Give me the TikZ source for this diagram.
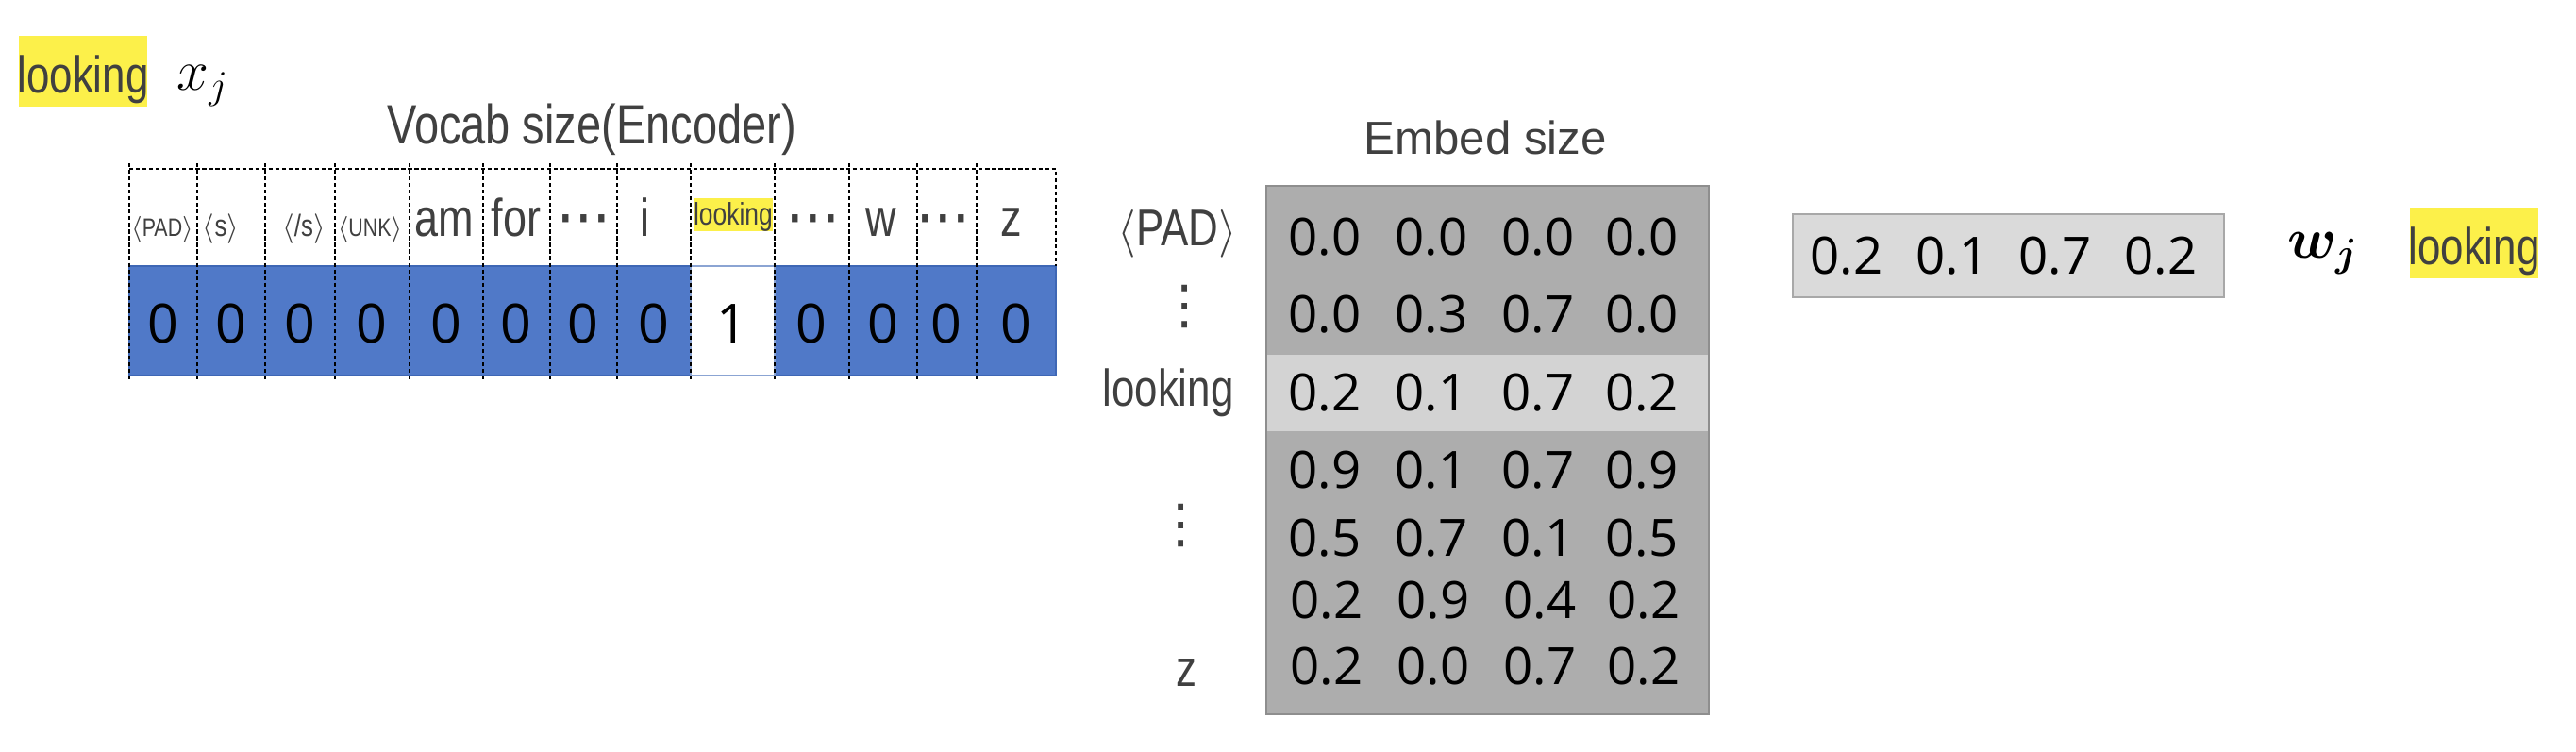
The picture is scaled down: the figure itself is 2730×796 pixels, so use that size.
\documentclass[tikz,border=0pt]{standalone}
\usepackage{amsmath,bm}
\usepackage{fontspec}
\setmainfont{Liberation Sans}
\newfontfamily\lblfont[FakeStretch=0.8]{Liberation Sans}
\newfontfamily\numfont{Open Sans}
\newfontfamily\symfont{DejaVu Sans}
\newcommand{\lblsize}[1]{\lblfont\fontsize{#1}{#1}\selectfont}
\newcommand{\hdotsx}{\textbf{\textperiodcentered\kern.07em\textperiodcentered\kern.07em\textperiodcentered}}
\definecolor{hly}{HTML}{FCF04A}
\definecolor{txtgray}{HTML}{404040}
\definecolor{vblue}{HTML}{5079C8}
\definecolor{vbluedark}{HTML}{3E67B5}
\definecolor{embgray}{HTML}{ADADAD}
\definecolor{embhl}{HTML}{D3D3D3}
\definecolor{embborder}{HTML}{8E8E8E}
\definecolor{boxgray}{HTML}{DADADA}
\definecolor{boxborder}{HTML}{A8A8A8}

\begin{document}
\begin{tikzpicture}[x=.01cm,y=-.01cm,
    lbl/.style={text=txtgray,inner sep=0,anchor=base},
    num/.style={inner sep=0,anchor=base,font=\numfont\fontsize{15.5}{16}\selectfont},
    bit/.style={inner sep=0,anchor=base,font=\numfont\fontsize{16.3}{18}\selectfont},
    hl/.style={fill=hly,inner sep=0},
    vdash/.style={dash pattern=on 1.2pt off .8pt,line width=.35pt}]
    \useasboundingbox (0,0) rectangle (2730,796);
    \node[hl,minimum width=1.36cm,minimum height=.75cm](hlx)at(88,75.5){};
    \node[lbl,font=\lblsize{15.6}](wordx)at(88,98){looking};
    \node[inner sep=0,anchor=base,font=\fontsize{18}{18}\selectfont](xj)at(215,95){$x_j$};
    \node[lbl,font=\lblsize{16.7}](vtitle)at(627,152){Vocab size(Encoder)};
    \filldraw[fill=vblue,draw=vbluedark,line width=.6pt](137,282)rectangle(1119,398);
    \filldraw[fill=white,draw=vbluedark!60,line width=.4pt](732,282)rectangle(821,398);
    \draw[vdash](137,179)--(1119,179)--(1119,282);
    \draw[vdash](137,173)--(137,405) (209,173)--(209,405) (281,173)--(281,405) (355,173)--(355,405)
        (434,173)--(434,405) (512,173)--(512,405) (583,173)--(583,405) (654,173)--(654,405)
        (732,173)--(732,405) (821,173)--(821,405) (900,173)--(900,405) (972,173)--(972,405)
        (1035,173)--(1035,405);
    \node[lbl,font=\lblsize{7.6}](v1)at(172,250){$\langle$PAD$\rangle$};
    \node[lbl,font=\lblsize{9.2}](v2)at(234,250){$\langle$s$\rangle$};
    \node[lbl,font=\lblsize{9.2}](v3)at(322,250){$\langle$/s$\rangle$};
    \node[lbl,font=\lblsize{7.6}](v4)at(392,250){$\langle$UNK$\rangle$};
    \node[lbl,font=\lblsize{16}](v5)at(471,250){am};
    \node[lbl,font=\lblsize{16}](v6)at(547,250){for};
    \node[lbl,font=\lblsize{16}](v7)at(620,250){\hdotsx};
    \node[lbl,font=\lblsize{16}](v8)at(683,250){i};
    \node[hl,minimum width=.84cm,minimum height=.35cm](hlv)at(777,227.5){};
    \node[lbl,font=\lblsize{9.4}](v9)at(777,238){looking};
    \node[lbl,font=\lblsize{16}](v10)at(863,250){\hdotsx};
    \node[lbl,font=\lblsize{16}](v11)at(934,250){w};
    \node[lbl,font=\lblsize{16}](v12)at(1001,250){\hdotsx};
    \node[lbl,font=\lblsize{16}](v13)at(1072,250){z};
    \node[bit](b1)at(173,363){0};
    \node[bit](b2)at(245,363){0};
    \node[bit](b3)at(318,363){0};
    \node[bit](b4)at(394,363){0};
    \node[bit](b5)at(473,363){0};
    \node[bit](b6)at(547,363){0};
    \node[bit](b7)at(618,363){0};
    \node[bit](b8)at(693,363){0};
    \node[bit](b9)at(776,363){1};
    \node[bit](b10)at(860,363){0};
    \node[bit](b11)at(936,363){0};
    \node[bit](b12)at(1003,363){0};
    \node[bit](b13)at(1077,363){0};
    \node[lbl,font=\fontsize{14}{16}\selectfont](etitle)at(1574,163){Embed size};
    \filldraw[fill=embgray,draw=embborder,line width=.8pt](1342,197)rectangle(1811,757);
    \fill[embhl](1343,376)rectangle(1810,457);
    \node[lbl,font=\lblsize{15.6}](r1)at(1248,260){$\langle$PAD$\rangle$};
    \node[text=txtgray,inner sep=0,font=\symfont\fontsize{16}{16}\selectfont](r2)at(1256,325){⋮};
    \node[lbl,font=\lblsize{15.6}](r3)at(1238,430){looking};
    \node[text=txtgray,inner sep=0,font=\symfont\fontsize{16}{16}\selectfont](r4)at(1252,557){⋮};
    \node[lbl,font=\lblsize{15.6}](r5)at(1257,727){z};
    \node[num](e11)at(1404,270){0.0};
    \node[num](e12)at(1517,270){0.0};
    \node[num](e13)at(1630,270){0.0};
    \node[num](e14)at(1740,270){0.0};
    \node[num](e21)at(1404,352){0.0};
    \node[num](e22)at(1517,352){0.3};
    \node[num](e23)at(1630,352){0.7};
    \node[num](e24)at(1740,352){0.0};
    \node[num](e31)at(1404,435){0.2};
    \node[num](e32)at(1517,435){0.1};
    \node[num](e33)at(1630,435){0.7};
    \node[num](e34)at(1740,435){0.2};
    \node[num](e41)at(1404,517){0.9};
    \node[num](e42)at(1517,517){0.1};
    \node[num](e43)at(1630,517){0.7};
    \node[num](e44)at(1740,517){0.9};
    \node[num](e51)at(1404,589){0.5};
    \node[num](e52)at(1517,589){0.7};
    \node[num](e53)at(1630,589){0.1};
    \node[num](e54)at(1740,589){0.5};
    \node[num](e61)at(1406,655){0.2};
    \node[num](e62)at(1519,655){0.9};
    \node[num](e63)at(1632,655){0.4};
    \node[num](e64)at(1742,655){0.2};
    \node[num](e71)at(1406,725){0.2};
    \node[num](e72)at(1519,725){0.0};
    \node[num](e73)at(1632,725){0.7};
    \node[num](e74)at(1742,725){0.2};
    \filldraw[fill=boxgray,draw=boxborder,line width=.6pt](1900,227)rectangle(2357,315);
    \node[num](w1)at(1957,290){0.2};
    \node[num](w2)at(2069,290){0.1};
    \node[num](w3)at(2178,290){0.7};
    \node[num](w4)at(2290,290){0.2};
    \node[inner sep=0,anchor=base,font=\fontsize{18}{18}\selectfont](wj)at(2462,273){$\bm{w}_{\bm{j}}$};
    \node[hl,minimum width=1.36cm,minimum height=.75cm](hlw)at(2622,257.5){};
    \node[lbl,font=\lblsize{15.6}](wordw)at(2622,280){looking};
\end{tikzpicture}
\end{document}
